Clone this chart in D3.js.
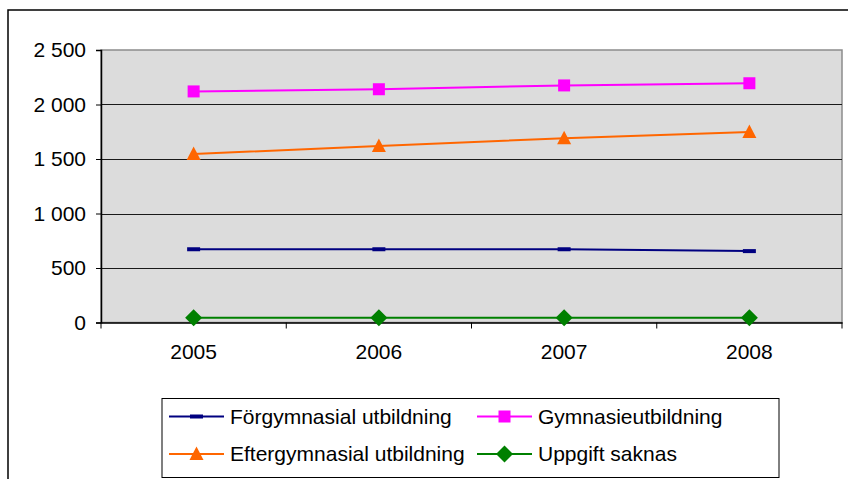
<!DOCTYPE html>
<html>
<head>
<meta charset="utf-8">
<script src="https://cdn.jsdelivr.net/npm/d3@7"></script>
<style>
  body { margin: 0; background: #fff; }
  svg { display: block; font-family: "Liberation Sans", Arial, sans-serif; }
</style>
</head>
<body>
<div id="chart"></div>
<script>
// Chart data
const years = ['2005', '2006', '2007', '2008'];
const forgymnasial = [672, 672, 672, 655];
const gymnasie = [2120, 2140, 2175, 2195];
const eftergymnasial = [1545, 1620, 1690, 1748];
const uppgiftSaknas = [43, 43, 43, 43];
const yTicks = [0, 500, 1000, 1500, 2000, 2500];

const series = [
    { name: 'Förgymnasial utbildning', values: forgymnasial, color: '#000080', marker: 'dash' },
    { name: 'Gymnasieutbildning', values: gymnasie, color: '#FF00FF', marker: 'square' },
    { name: 'Eftergymnasial utbildning', values: eftergymnasial, color: '#FF6600', marker: 'triangle' },
    { name: 'Uppgift saknas', values: uppgiftSaknas, color: '#008000', marker: 'diamond' }
];

const width = 848, height = 479;
const plot = { left: 101, top: 50, right: 842, bottom: 322.5 };

const svg = d3.select('#chart')
    .append('svg')
    .attr('width', width)
    .attr('height', height);

// Outer chart frame (cropped on right and bottom)
svg.append('rect')
    .attr('x', 8).attr('y', 10)
    .attr('width', 900).attr('height', 500)
    .style('fill', '#fff')
    .style('stroke', '#000')
    .style('stroke-width', 1.5);

const x = d3.scaleBand()
    .domain(years)
    .range([plot.left, plot.right]);

const y = d3.scaleLinear()
    .domain([0, 2500])
    .range([plot.bottom, plot.top]);

// Plot background
svg.append('rect')
    .attr('x', plot.left).attr('y', plot.top)
    .attr('width', plot.right - plot.left)
    .attr('height', plot.bottom - plot.top)
    .style('fill', '#DCDCDC')
    .style('stroke', '#8C8C8C')
    .style('stroke-width', 1.5);

// Gridlines
svg.append('g')
    .selectAll('line')
    .data(yTicks.filter(d => d > 0 && d < 2500))
    .join('line')
    .attr('x1', plot.left).attr('x2', plot.right)
    .attr('y1', d => Math.round(y(d)) + 0.5)
    .attr('y2', d => Math.round(y(d)) + 0.5)
    .style('stroke', '#1a1a1a')
    .style('stroke-width', 1);

// Y axis
const yAxis = svg.append('g')
    .attr('transform', `translate(${plot.left},0)`)
    .call(d3.axisLeft(y)
        .tickValues(yTicks)
        .tickSize(5)
        .tickPadding(10)
        .tickFormat(d => d3.format(',')(d).replace(',', ' ')));
yAxis.select('.domain').style('stroke', '#000').style('stroke-width', 1.5);
yAxis.selectAll('.tick line').style('stroke', '#000');
yAxis.selectAll('text')
    .style('font-size', '21px')
    .style('fill', '#000');

// X axis
const xAxis = svg.append('g')
    .attr('transform', `translate(0,${plot.bottom})`)
    .call(d3.axisBottom(x).tickSize(0).tickPadding(22));
xAxis.select('.domain').style('stroke', '#000').style('stroke-width', 1.5);
xAxis.selectAll('text')
    .style('font-size', '21px')
    .style('fill', '#000');

// Category boundary ticks
svg.append('g')
    .selectAll('line')
    .data(years.concat(['end']))
    .join('line')
    .attr('x1', (d, i) => i < years.length ? x(d) : x(years[years.length - 1]) + x.bandwidth())
    .attr('x2', (d, i) => i < years.length ? x(d) : x(years[years.length - 1]) + x.bandwidth())
    .attr('y1', plot.bottom)
    .attr('y2', plot.bottom + 6)
    .style('stroke', '#000')
    .style('stroke-width', 1);

const cx = d => x(d) + x.bandwidth() / 2;

function drawMarker(g, type, color) {
    if (type === 'dash') {
        g.append('rect').attr('x', -6.5).attr('y', -2).attr('width', 13).attr('height', 4)
            .style('fill', color);
    } else if (type === 'square') {
        g.append('rect').attr('x', -6).attr('y', -6).attr('width', 12).attr('height', 12)
            .style('fill', color);
    } else if (type === 'triangle') {
        g.append('path').attr('d', 'M0,-7.5L7,6L-7,6Z').style('fill', color);
    } else if (type === 'diamond') {
        g.append('path').attr('d', 'M0,-8.5L8.5,0L0,8.5L-8.5,0Z').style('fill', color);
    }
}

const line = d3.line()
    .x((d, i) => cx(years[i]))
    .y(d => y(d));

// Series lines and markers
series.forEach(s => {
    svg.append('path')
        .datum(s.values)
        .attr('d', line)
        .style('fill', 'none')
        .style('stroke', s.color)
        .style('stroke-width', 2);

    s.values.forEach((v, i) => {
        const g = svg.append('g')
            .attr('transform', `translate(${cx(years[i])},${y(v)})`);
        drawMarker(g, s.marker, s.color);
    });
});

// Legend
const legend = svg.append('g');
legend.append('rect')
    .attr('x', 162).attr('y', 398.5)
    .attr('width', 617).attr('height', 79)
    .style('fill', '#fff')
    .style('stroke', '#000')
    .style('stroke-width', 1);

const legendPos = [
    { x: 169, y: 416.5 },
    { x: 477, y: 416.5 },
    { x: 169, y: 454 },
    { x: 477, y: 454 }
];

series.forEach((s, i) => {
    const p = legendPos[i];
    const g = legend.append('g').attr('transform', `translate(${p.x},${p.y})`);
    g.append('line')
        .attr('x1', 0).attr('x2', 55)
        .style('stroke', s.color)
        .style('stroke-width', 2);
    const m = g.append('g').attr('transform', 'translate(27.5,0)');
    drawMarker(m, s.marker, s.color);
    g.append('text')
        .attr('x', 61)
        .attr('dy', '0.35em')
        .style('font-size', '21px')
        .style('fill', '#000')
        .text(s.name);
});
</script>
</body>
</html>
